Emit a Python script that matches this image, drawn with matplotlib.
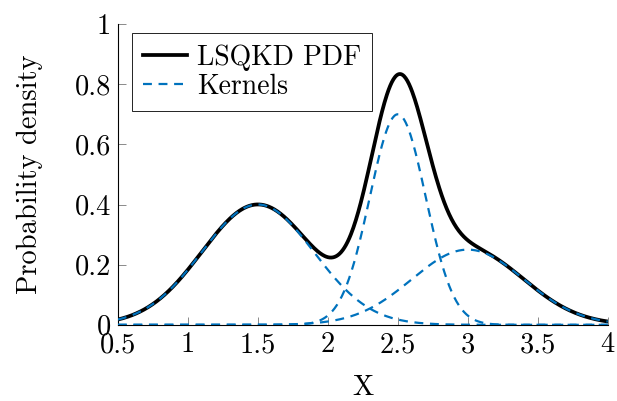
import numpy as np
import matplotlib
matplotlib.use("Agg")
import matplotlib.pyplot as plt

# Gaussian kernels of the least-squares kernel density fit
centers = [1.5, 2.5, 3.0]
heights = [0.40, 0.70, 0.25]
widths = [0.40, 0.20, 0.40]

x_ticks = [0.5, 1, 1.5, 2, 2.5, 3, 3.5, 4]
y_ticks = [0, 0.2, 0.4, 0.6, 0.8, 1]

plt.rcParams['font.family'] = 'cmr10'
plt.rcParams['mathtext.fontset'] = 'cm'
plt.rcParams['axes.formatter.use_mathtext'] = True

blue = '#0072BD'

x = np.linspace(0.5, 4, 600)
kernels = [h * np.exp(-(x - c) ** 2 / (2 * w ** 2))
           for c, h, w in zip(centers, heights, widths)]
pdf = np.sum(kernels, axis=0)

fig = plt.figure(figsize=(6.17, 4.01), dpi=100)
ax = fig.add_axes([0.191, 0.19, 0.794, 0.75])

ax.plot(x, pdf, color='black', lw=2.7, label='LSQKD PDF', zorder=2)
for i, k in enumerate(kernels):
    ax.plot(x, k, color=blue, lw=1.6, ls=(0, (4, 3)),
            label='Kernels' if i == 0 else None, zorder=3)

ax.set_xlim(0.5, 4)
ax.set_ylim(0, 1)
ax.set_xticks(x_ticks)
ax.set_yticks(y_ticks)
ax.set_xticklabels(['0.5', '1', '1.5', '2', '2.5', '3', '3.5', '4'])
ax.set_yticklabels(['0', '0.2', '0.4', '0.6', '0.8', '1'])
ax.tick_params(direction='in', length=6, width=0.6, color='#777777',
               labelsize=20.5, pad=5)
ax.spines['top'].set_visible(False)
ax.spines['right'].set_visible(False)
for s in ('left', 'bottom'):
    ax.spines[s].set_linewidth(0.8)

ax.set_xlabel('X', fontsize=20.5, labelpad=12)
ax.set_ylabel('Probability density', fontsize=20.5, labelpad=23)

leg = ax.legend(loc='upper left', bbox_to_anchor=(0.028, 0.97), fontsize=20,
                frameon=True, fancybox=False, framealpha=1,
                handlelength=1.6, handletextpad=0.35, borderpad=0.4,
                labelspacing=0.1, borderaxespad=0)
leg.get_frame().set_edgecolor('black')
leg.get_frame().set_linewidth(0.6)

fig.savefig('out.png', dpi=100)
